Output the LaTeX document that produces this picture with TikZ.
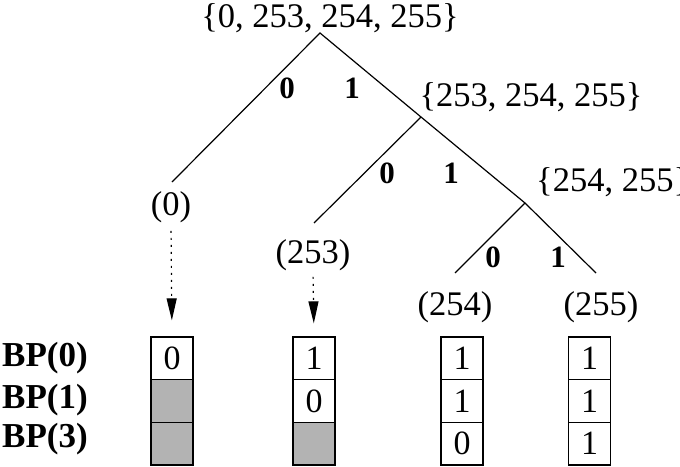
\documentclass[tikz,border=0pt]{standalone}
\usepackage{fontspec}
\setmainfont{Liberation Serif}
\usetikzlibrary{arrows.meta}
\definecolor{cellgray}{RGB}{179,179,179}
\begin{document}
\begin{tikzpicture}[x=1pt,y=-1pt,
  lbl/.style={inner sep=0pt, font=\fontsize{34.5}{34.5}\selectfont},
  elbl/.style={inner sep=0pt, font=\fontsize{31}{31}\selectfont\bfseries},
  bplbl/.style={inner sep=0pt, anchor=west, font=\fontsize{35}{35}\selectfont\bfseries},
  branch/.style={line width=1.2pt},
  ptr/.style={line width=1.2pt, dash pattern=on 2pt off 5pt, -{Triangle[length=22pt,width=10pt]}},
  cell/.style={draw, line width=1.2pt, minimum width=42pt, minimum height=42.7pt, inner sep=0pt, font=\fontsize{34}{34}\selectfont},
  emptycell/.style={cell, fill=cellgray}]
\useasboundingbox (0,0) rectangle (680,466);
% tree
\coordinate (r) at (320,33);
\coordinate (a) at (421,117);
\coordinate (b) at (525,203);
\coordinate (e0) at (172,182);
\coordinate (e253) at (314,223);
\coordinate (e254) at (455,273);
\coordinate (e255) at (596,273);
\draw[branch] (e0) -- (r) -- (a) -- (b) -- (e255);
\draw[branch] (a) -- (e253);
\draw[branch] (b) -- (e254);
% set labels
\node[lbl] (root) at (330,18) {\{0, 253, 254, 255\}};
\node[lbl] (setA) at (531,97) {\{253, 254, 255\}};
\node[lbl, anchor=west] (setB) at (536,182) {\{254, 255\}};
% edge labels
\node[elbl] (r0) at (287,88) {0};
\node[elbl] (r1) at (352,88) {1};
\node[elbl] (a0) at (387,173) {0};
\node[elbl] (a1) at (451,173) {1};
\node[elbl] (b0) at (493,257) {0};
\node[elbl] (b1) at (558,257) {1};
% leaves
\node[lbl] (l0) at (171,207) {(0)};
\node[lbl] (l253) at (313,255) {(253)};
\node[lbl] (l254) at (455,307) {(254)};
\node[lbl] (l255) at (601,307) {(255)};
% cells
\node[cell] (c10) at (172,358.3) {0};
\node[emptycell] (c11) at (172,401) {};
\node[emptycell] (c12) at (172,443.7) {};
\node[cell] (c20) at (314,358.3) {1};
\node[cell] (c21) at (314,401) {0};
\node[emptycell] (c22) at (314,443.7) {};
\node[cell] (c30) at (462,358.3) {1};
\node[cell] (c31) at (462,401) {1};
\node[cell] (c32) at (462,443.7) {0};
\node[cell] (c40) at (589.5,358.3) {1};
\node[cell] (c41) at (589.5,401) {1};
\node[cell] (c42) at (589.5,443.7) {1};
% pointers
\draw[ptr, shorten <=8pt, shorten >=16pt] (l0.south) -- (c10.north);
\draw[ptr, shorten <=6pt, shorten >=13pt] (l253.south) -- (c20.north);
% row labels
\node[bplbl] (bp0) at (2,358) {BP(0)};
\node[bplbl] (bp1) at (2,400) {BP(1)};
\node[bplbl] (bp3) at (2,439) {BP(3)};
\end{tikzpicture}
\end{document}
